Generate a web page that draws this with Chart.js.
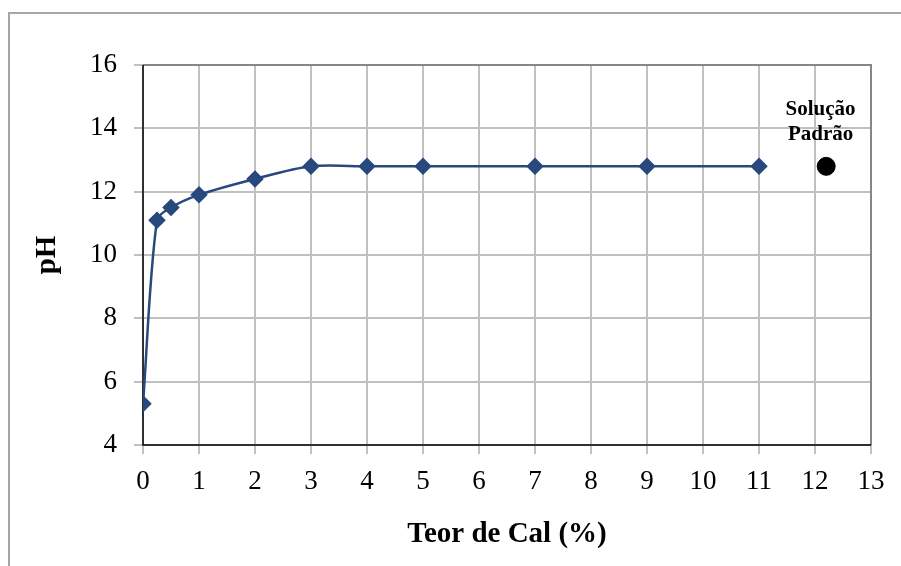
<!DOCTYPE html>
<html>
<head>
<meta charset="utf-8">
<script src="https://cdn.jsdelivr.net/npm/chart.js@4.4.1/dist/chart.umd.min.js"></script>
<style>
    html, body { margin: 0; padding: 0; background: #fff; }
    #wrap { width: 901px; height: 566px; position: relative; }
</style>
</head>
<body>
<div id="wrap"><canvas id="chart"></canvas></div>
<script>
// teor de cal (%) e pH medido
const teorCal = [0, 0.25, 0.5, 1, 2, 3, 4, 5, 7, 9, 11];
const phValues = [5.3, 11.1, 11.5, 11.9, 12.4, 12.8, 12.8, 12.8, 12.8, 12.8, 12.8];
// solução padrão
const padraoX = [12.2];
const padraoY = [12.8];
const padraoLabel = ['Solução', 'Padrão'];
const padraoLabelPos = { x: 12.1, y: 14.6 };

const serif = "'Liberation Serif', 'Times New Roman', serif";

const frame = {
    id: 'frame',
    beforeDraw(chart) {
        const c = chart.ctx;
        c.save();
        c.fillStyle = '#fff';
        c.fillRect(0, 0, chart.width, chart.height);
        c.strokeStyle = '#a6a6a6';
        c.lineWidth = 2;
        c.beginPath();
        c.moveTo(9, chart.height);
        c.lineTo(9, 13);
        c.lineTo(chart.width, 13);
        c.stroke();
        c.restore();
    },
    beforeDatasetsDraw(chart) {
        const a = chart.chartArea, c = chart.ctx;
        c.save();
        c.strokeStyle = '#868686';
        c.lineWidth = 2;
        c.beginPath();
        c.moveTo(a.left, a.top);
        c.lineTo(a.right, a.top);
        c.lineTo(a.right, a.bottom);
        c.stroke();
        c.strokeStyle = '#000';
        c.lineWidth = 1.5;
        c.beginPath();
        c.moveTo(a.left, a.top);
        c.lineTo(a.left, a.bottom);
        c.lineTo(a.right, a.bottom);
        c.stroke();
        c.restore();
    },
    afterDraw(chart) {
        const c = chart.ctx;
        const x = chart.scales.x.getPixelForValue(padraoLabelPos.x);
        const y = chart.scales.y.getPixelForValue(padraoLabelPos.y);
        c.save();
        c.font = "bold 21px " + serif;
        c.fillStyle = '#000';
        c.textAlign = 'center';
        c.textBaseline = 'middle';
        padraoLabel.forEach((t, i) => c.fillText(t, x, y + i * 25));
        c.restore();
    }
};

const mainData = teorCal.map((v, i) => ({ x: v, y: phValues[i] }));
const padraoData = padraoX.map((v, i) => ({ x: v, y: padraoY[i] }));

new Chart(document.getElementById('chart').getContext('2d'), {
    type: 'scatter',
    data: {
        datasets: [
            {
                label: 'pH',
                data: mainData,
                showLine: true,
                tension: 0.3,
                borderColor: '#27497d',
                backgroundColor: '#27497d',
                borderWidth: 2.5,
                pointStyle: 'rectRot',
                pointRadius: 7,
                pointHoverRadius: 7
            },
            {
                label: 'Solução Padrão',
                data: padraoData,
                showLine: false,
                borderColor: '#000',
                backgroundColor: '#000',
                pointStyle: 'circle',
                pointRadius: 9,
                pointHoverRadius: 9
            }
        ]
    },
    options: {
        responsive: true,
        maintainAspectRatio: false,
        animation: false,
        layout: { padding: { left: 0, top: 65, right: 30, bottom: 0 } },
        plugins: {
            legend: { display: false },
            tooltip: { enabled: false }
        },
        scales: {
            x: {
                type: 'linear',
                min: 0,
                max: 13,
                afterFit(s) { s.height = 121; },
                ticks: {
                    stepSize: 1,
                    color: '#000',
                    padding: 12,
                    font: { family: serif, size: 27 }
                },
                grid: {
                    color: '#c0c0c0',
                    lineWidth: 2,
                    tickLength: 9,
                    drawTicks: true
                },
                border: { display: false },
                title: {
                    display: true,
                    text: 'Teor de Cal (%)',
                    color: '#000',
                    padding: { top: 0, bottom: 14 },
                    font: { family: serif, size: 29, weight: 'bold' }
                }
            },
            y: {
                min: 4,
                max: 16,
                afterFit(s) { s.width = 143; },
                ticks: {
                    stepSize: 2,
                    color: '#000',
                    padding: 17,
                    font: { family: serif, size: 27 }
                },
                grid: {
                    color: '#c0c0c0',
                    lineWidth: 2,
                    tickLength: 9,
                    drawTicks: true
                },
                border: { display: false },
                title: {
                    display: true,
                    text: 'pH',
                    color: '#000',
                    padding: { top: 30, bottom: 0 },
                    font: { family: serif, size: 29, weight: 'bold' }
                }
            }
        }
    },
    plugins: [frame]
});
</script>
</body>
</html>
